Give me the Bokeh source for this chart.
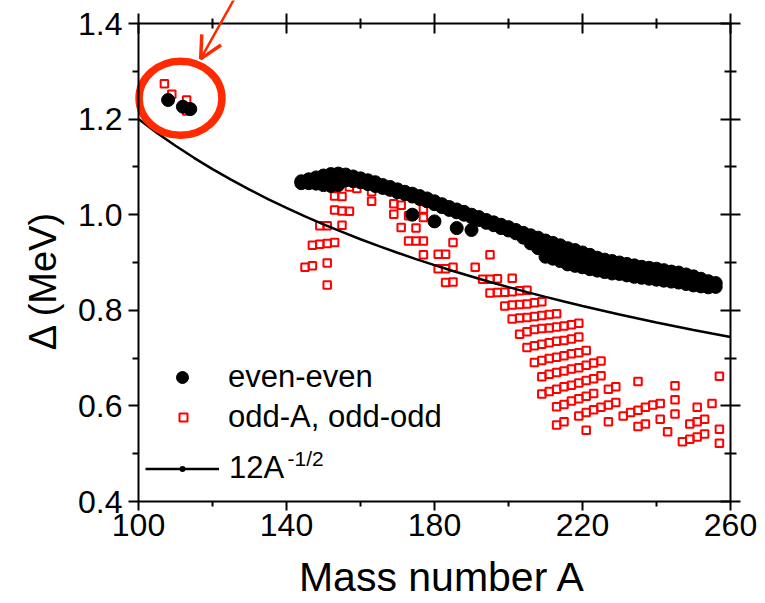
from math import pi
from bokeh.plotting import figure
from bokeh.models import (LinearAxis, FixedTicker, NumeralTickFormatter, CustomJSTickFormatter,
                          Legend, LegendItem, Label, Arrow, OpenHead, Range1d)
from bokeh.embed import file_html
from bokeh.resources import INLINE

# ---------------- data ----------------
# even-even nuclei: mass number A and pairing gap (MeV)
ee_A = [108, 112, 114,
        144, 144, 146, 146, 148, 148, 150, 150, 150, 152, 152, 152, 154, 154, 154,
        156, 156, 158, 158, 160, 160, 162, 162, 164, 164, 166, 166, 168, 168, 170, 170,
        172, 172, 174, 174, 174, 176, 176, 178, 178, 180, 180, 180, 182, 182, 184, 184,
        186, 186, 186, 188, 188, 190, 190, 190, 192, 192, 194, 194, 196, 196, 198, 198,
        200, 200, 202, 202, 204, 204, 206, 206, 206, 208, 208, 208,
        210, 210, 210, 210, 212, 212, 212, 212, 214, 214, 214, 214, 216, 216, 216, 216,
        218, 218, 218, 218, 220, 220, 220, 220, 222, 222, 222, 222, 224, 224, 224, 224,
        226, 226, 226, 226, 228, 228, 228, 228, 230, 230, 230, 232, 232, 232, 234, 234, 234,
        236, 236, 236, 238, 238, 238, 240, 240, 240, 242, 242, 242, 244, 244, 244,
        246, 246, 246, 248, 248, 248, 250, 250, 250, 252, 252, 252, 254, 254, 254, 256, 256]
ee_D = [1.240, 1.226, 1.221,
        1.070, 1.066, 1.074, 1.066, 1.078, 1.065, 1.082, 1.072, 1.062, 1.085, 1.074, 1.060, 1.086, 1.076, 1.062,
        1.084, 1.072, 1.080, 1.070, 1.076, 1.068, 1.072, 1.064, 1.068, 1.060, 1.062, 1.056, 1.058, 1.052, 1.053, 1.047,
        1.048, 1.043, 1.044, 1.038, 1.000, 1.039, 1.033, 1.034, 1.028, 1.028, 1.022, 0.986, 1.022, 1.016, 1.016, 1.010,
        1.011, 1.005, 0.972, 1.006, 1.000, 1.000, 0.995, 0.968, 0.995, 0.989, 0.989, 0.983, 0.984, 0.978, 0.979, 0.972,
        0.974, 0.967, 0.968, 0.961, 0.962, 0.952, 0.957, 0.947, 0.940, 0.952, 0.942, 0.930,
        0.946, 0.936, 0.922, 0.912, 0.941, 0.931, 0.918, 0.908, 0.936, 0.926, 0.913, 0.903, 0.930, 0.920, 0.908, 0.896,
        0.926, 0.915, 0.903, 0.893, 0.921, 0.910, 0.898, 0.890, 0.916, 0.905, 0.894, 0.886, 0.910, 0.900, 0.890, 0.883,
        0.906, 0.896, 0.886, 0.880, 0.903, 0.892, 0.882, 0.877, 0.900, 0.888, 0.876, 0.897, 0.885, 0.873, 0.894, 0.882, 0.870,
        0.891, 0.879, 0.868, 0.889, 0.877, 0.866, 0.887, 0.875, 0.864, 0.884, 0.872, 0.862, 0.881, 0.869, 0.860,
        0.879, 0.867, 0.858, 0.875, 0.864, 0.855, 0.871, 0.860, 0.852, 0.866, 0.856, 0.850, 0.861, 0.852, 0.848, 0.857, 0.849]

# odd-A and odd-odd nuclei
oo_A = [107, 109, 113, 113,
        145, 147, 151, 151, 147, 149, 151, 153, 149, 151, 155, 153, 155, 157,
        153, 155, 157, 159, 163, 163,
        169, 171, 169, 173, 177, 177, 171, 175, 173, 175, 177, 177, 181, 183, 185,
        181, 183, 185, 183, 185, 191, 195,
        193, 195, 197, 201,
        195, 197, 199, 201, 203, 205,
        199, 201, 203, 205, 207, 209,
        201, 203, 205, 207, 209, 211, 213,
        203, 205, 207, 209, 211, 213, 215, 217, 219,
        205, 207, 209, 211, 213, 215, 217, 219,
        207, 209, 211, 213, 215, 217, 219, 221,
        209, 211, 213, 215, 217, 219, 221, 223, 225,
        209, 211, 213, 215, 217, 219, 221, 223, 225, 227, 229,
        213, 215, 217, 219, 221, 223,
        219, 221, 223, 225, 227, 229,
        213, 215, 221, 227,
        231, 233, 235, 237, 239, 241,
        235, 235, 237, 241, 243,
        245, 245, 245,
        247, 249, 251, 253, 249, 251, 253, 251, 255,
        257, 257, 257]
oo_D = [1.274, 1.252, 1.240, 1.217,
        0.890, 0.893, 0.899, 0.853, 0.936, 0.938, 0.940, 0.942, 0.977, 0.977, 0.978, 1.010, 1.008, 1.007,
        1.039, 1.038, 1.058, 1.055, 1.048, 1.028,
        1.023, 1.020, 1.001, 0.998, 0.994, 1.012, 0.973, 0.972, 0.945, 0.945, 0.945, 0.916, 0.917, 0.917, 0.942,
        0.887, 0.887, 0.890, 0.858, 0.859, 0.890, 0.916,
        0.865, 0.865, 0.866, 0.867,
        0.836, 0.837, 0.838, 0.839, 0.841, 0.842,
        0.809, 0.811, 0.812, 0.813, 0.816, 0.818,
        0.782, 0.784, 0.785, 0.787, 0.789, 0.791, 0.793,
        0.750, 0.755, 0.760, 0.762, 0.763, 0.765, 0.767, 0.770, 0.773,
        0.722, 0.726, 0.729, 0.732, 0.735, 0.737, 0.740, 0.744,
        0.691, 0.695, 0.699, 0.702, 0.705, 0.709, 0.711, 0.716,
        0.661, 0.666, 0.670, 0.673, 0.677, 0.680, 0.685, 0.690, 0.694,
        0.625, 0.630, 0.635, 0.640, 0.643, 0.648, 0.653, 0.657, 0.663, 0.635, 0.640,
        0.598, 0.603, 0.610, 0.615, 0.620, 0.626,
        0.579, 0.586, 0.592, 0.597, 0.602, 0.607,
        0.560, 0.567, 0.549, 0.567,
        0.579, 0.586, 0.591, 0.597, 0.602, 0.605,
        0.651, 0.557, 0.562, 0.572, 0.546,
        0.642, 0.613, 0.583,
        0.525, 0.530, 0.535, 0.541, 0.562, 0.567, 0.572, 0.597, 0.605,
        0.662, 0.551, 0.522]

# 12 A^(-1/2) curve
fit_A = [100, 105, 110, 115, 120, 125, 130, 135, 140, 145, 150, 155, 160, 165, 170, 175, 180,
         185, 190, 195, 200, 205, 210, 215, 220, 225, 230, 235, 240, 245, 250, 255, 260]
fit_D = [1.2000, 1.1711, 1.1442, 1.1190, 1.0954, 1.0733, 1.0525, 1.0328, 1.0142, 0.9965, 0.9798,
         0.9639, 0.9487, 0.9342, 0.9204, 0.9071, 0.8944, 0.8823, 0.8706, 0.8593, 0.8485, 0.8381,
         0.8281, 0.8184, 0.8090, 0.8000, 0.7913, 0.7828, 0.7746, 0.7667, 0.7589, 0.7515, 0.7442]

x_major = [100, 140, 180, 220, 260]
x_minor = [120, 160, 200, 240]
y_major = [0.4, 0.6, 0.8, 1.0, 1.2, 1.4]
y_minor = [0.5, 0.7, 0.9, 1.1, 1.3]
x_lo, x_hi = 100, 260
y_lo, y_hi = 0.4, 1.4

# highlight ring and arrow (data units)
ring_x, ring_y, ring_w, ring_h = 111.35, 1.2435, 22.4, 0.155
arrow_from = (126.4, 1.4586)
arrow_to = (116.8, 1.326)

FONT = "Liberation Sans"
RED_RING = "#ff2a00"

W, H = 765, 603
# plotting box in pixels: x 138..730, y 23..501 ; the frame spans the whole canvas
PX_L, PX_R, PX_T, PX_B = 138, 730, 23, 501
sx = (PX_R - PX_L) / (x_hi - x_lo)
sy = (PX_B - PX_T) / (y_hi - y_lo)
xr = Range1d(x_lo - PX_L / sx, x_lo - PX_L / sx + W / sx)
yr = Range1d(y_hi + PX_T / sy - H / sy, y_hi + PX_T / sy)

p = figure(width=W, height=H, output_backend="svg", toolbar_location=None,
           x_range=xr, y_range=yr, x_axis_type=None, y_axis_type=None,
           min_border_left=0, min_border_right=0, min_border_top=0, min_border_bottom=0)
p.outline_line_color = None
p.background_fill_color = "white"
p.border_fill_color = "white"

xt = FixedTicker(ticks=x_major, minor_ticks=x_minor)
yt = FixedTicker(ticks=y_major, minor_ticks=y_minor)


def style(ax, mj_in, mj_out, mn_in, mn_out):
    ax.axis_line_width = 2
    ax.axis_line_color = "black"
    ax.major_tick_line_width = 2
    ax.minor_tick_line_width = 2
    ax.major_tick_line_color = "black"
    ax.minor_tick_line_color = "black"
    ax.major_tick_in = mj_in
    ax.major_tick_out = mj_out
    ax.minor_tick_in = mn_in
    ax.minor_tick_out = mn_out
    ax.major_label_text_color = "black"
    ax.major_label_text_font = FONT
    ax.major_label_text_font_size = "32px"


bottom = LinearAxis(ticker=xt, fixed_location=y_lo, bounds=(x_lo, x_hi))
style(bottom, 0, 9, 0, 5)
bottom.major_label_standoff = 3
p.add_layout(bottom, "below")

left = LinearAxis(ticker=yt, fixed_location=x_lo, bounds=(y_lo, y_hi),
                  formatter=NumeralTickFormatter(format="0.0"))
style(left, 0, 10, 0, 6)
left.major_label_standoff = 6
p.add_layout(left, "left")

top = LinearAxis(ticker=xt, fixed_location=y_hi, bounds=(x_lo, x_hi),
                 formatter=CustomJSTickFormatter(code="return ''"))
style(top, 10, 10, 5, 5)
top.major_label_text_font_size = "1px"
p.add_layout(top, "above")

right = LinearAxis(ticker=yt, fixed_location=x_hi, bounds=(y_lo, y_hi),
                   formatter=CustomJSTickFormatter(code="return ''"))
style(right, 10, 10, 6, 6)
right.major_label_text_font_size = "1px"
p.add_layout(right, "right")

# ---------------- glyphs ----------------
r_oo = p.scatter(oo_A, oo_D, marker="square", size=7.5, fill_color=None,
                 line_color="red", line_width=2)
r_fit = p.line(fit_A, fit_D, line_color="black", line_width=2.5)
r_ee = p.scatter(ee_A, ee_D, marker="circle", size=13, fill_color="black", line_color="black")
# only used for the small dot on the legend line sample (size 0 on the plot)
r_dot = p.scatter(fit_A, fit_D, marker="circle", size=0, fill_color="black", line_color=None)

p.ellipse(x=[ring_x], y=[ring_y], width=[ring_w], height=[ring_h],
          fill_color=None, line_color=RED_RING, line_width=7.5)

p.add_layout(Arrow(x_start=arrow_from[0], y_start=arrow_from[1], x_end=arrow_to[0], y_end=arrow_to[1],
                   line_color=RED_RING, line_width=2.5,
                   end=OpenHead(size=22, line_color=RED_RING, line_width=3.5)))


# ---------------- legends ----------------
def mk_legend(item, loc, gw, gh, standoff):
    lg = Legend(items=[item], location=loc, glyph_width=gw, glyph_height=gh,
                label_standoff=standoff, padding=0, margin=0, spacing=0,
                border_line_color=None, background_fill_alpha=0,
                label_text_font=FONT, label_text_font_size="31px", label_text_color="black",
                label_height=40)
    p.add_layout(lg)


mk_legend(LegendItem(label="even-even", renderers=[r_ee]), (167, 206), 30, 40, 31)
mk_legend(LegendItem(label="odd-A, odd-odd", renderers=[r_oo]), (173, 166), 20, 40, 35)
mk_legend(LegendItem(label="12A", renderers=[r_fit, r_dot]), (145, 115), 74, 15, 10)

p.add_layout(Label(x=287, y=145, x_units="screen", y_units="screen", text="-1/2",
                   text_font=FONT, text_font_size="21px", text_color="black",
                   text_baseline="alphabetic"))

# axis titles
p.add_layout(Label(x=442, y=27, x_units="screen", y_units="screen", text="Mass number A",
                   text_font=FONT, text_font_size="41px", text_color="black",
                   text_align="center", text_baseline="alphabetic"))
p.add_layout(Label(x=42, y=323, x_units="screen", y_units="screen", text="Δ (MeV)", angle=pi / 2,
                   text_font=FONT, text_font_size="38px", text_color="black",
                   text_align="center", text_baseline="alphabetic"))

open("out.html", "w").write(file_html(p, INLINE))
